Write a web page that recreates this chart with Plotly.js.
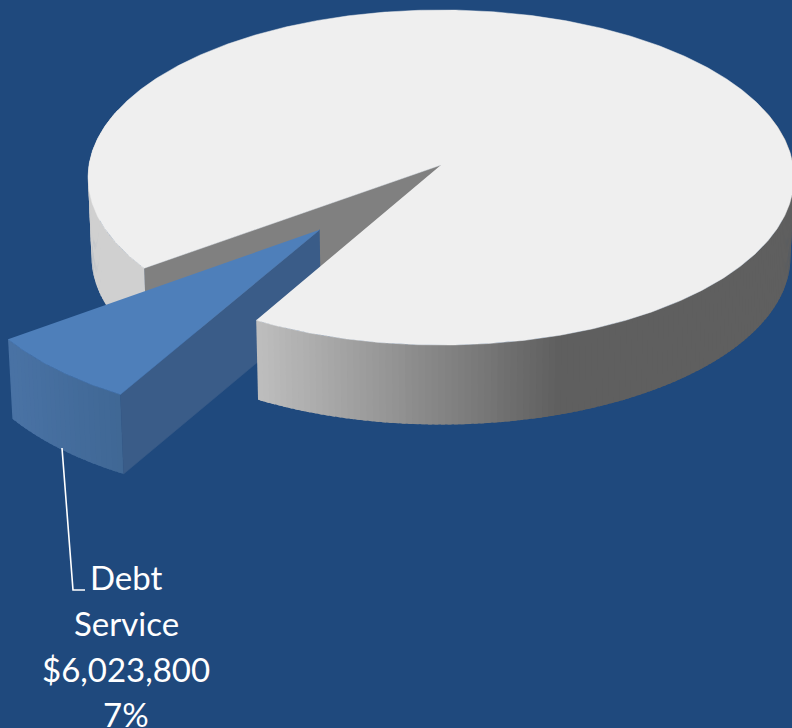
<!DOCTYPE html>
<html>
<head>
<meta charset="utf-8">
<script src="https://cdn.plot.ly/plotly-3.0.1.min.js"></script>
<style>html,body{margin:0;padding:0;background:#1f497d;overflow:hidden}#chart{width:792px;height:728px}</style>
</head>
<body>
<div id="chart"></div>
<script>
// Data
const sliceNames = ['Debt Service', 'All other'];
const sliceValues = [6023800, 83200000];
const labelLines = ['Debt', 'Service', '$6,023,800', '7%'];

// Style: projection of the tilted 3D pie
const C = {bg: '#1f497d', top: '#efefef', gapWall: '#808080', leftWall: '#d0d0d0',
           sliceTop: '#4e7fba', sliceInner: '#3a5c88', text: '#ffffff'};
const P = {cx: 441, cy: 165, rx: 352, ry: 166.6, k: 0.0746, depth: 79.5, shrink: 0.99,
           startDeg: 29.4, explode: 0.505};

const total = sliceValues.reduce((a, b) => a + b, 0);
const sweep = 360 * sliceValues[0] / total;
const a0 = P.startDeg, a1 = P.startDeg + sweep;
const rad = d => d * Math.PI / 180;

function project(X, Y, low) {
  const s = 1 / (1 - P.k * Y);
  let x = P.cx + P.rx * X * s, y = P.cy + P.ry * Y * s;
  if (low) { x = P.cx + (x - P.cx) * P.shrink; y += P.depth; }
  return [x, y];
}
function rim(deg, ox, oy, low) { return project(ox - Math.sin(rad(deg)), oy + Math.cos(rad(deg)), low); }
function arc(from, to, ox, oy, low) {
  const n = Math.max(2, Math.ceil(Math.abs(to - from) * 2)), out = [];
  for (let i = 0; i <= n; i++) out.push(rim(from + (to - from) * i / n, ox, oy, low));
  return out;
}
function poly(pts, color, w) {
  return {type: 'scatter', mode: 'lines', x: pts.map(p => p[0]), y: pts.map(p => p[1]),
          fill: 'toself', fillcolor: color, line: {color: color, width: w === undefined ? 0.5 : w},
          hoverinfo: 'skip', showlegend: false};
}
// Bands are painted back to front, each reaching under its successor so no seams show.
function wallBand(from, to, ox, oy, colorFn, step) {
  const out = [];
  const dir = to > from ? 1 : -1;
  for (let d = from; dir * (d - to) < 0; d += dir * step) {
    const e = dir > 0 ? Math.min(d + step, to) : Math.max(d - step, to);
    const up = arc(d, e, ox, oy, false);
    const midX = (up[0][0] + up[up.length - 1][0]) / 2;
    out.push({from: d, to: e, color: colorFn(midX)});
  }
  return out.map((b, i) => {
    const ext = i === 0 ? b.from : b.from - dir * step * 0.6;
    return {ext, end: b.to, color: b.color};
  }).reverse().map(b => poly(arc(b.ext, b.end, ox, oy, false).concat(arc(b.end, b.ext, ox, oy, true)), b.color, 0));
}
const lerp = (a, b, t) => Math.round(a + (b - a) * Math.min(1, Math.max(0, t)));
const frontColor = x => { const v = lerp(190, 95, (x - 257) / (560 - 257)); return `rgb(${v},${v},${v})`; };
const sliceColor = x => {
  const t = (x - 14) / (124 - 14);
  return `rgb(${lerp(73, 63, t)},${lerp(114, 103, t)},${lerp(164, 148, t)})`;
};

const mid = (a0 + a1) / 2;
const ox = -Math.sin(rad(mid)) * P.explode, oy = Math.cos(rad(mid)) * P.explode;

const traces = [];
// far gap wall and left outer wall of the large slice
traces.push(poly([project(0, 0, false), rim(a1, 0, 0, false), rim(a1, 0, 0, true), project(0, 0, true)], C.gapWall));
traces.push(...wallBand(a1, 110, 0, 0, () => C.leftWall, 1));
// exploded slice
traces.push(...wallBand(a0, a1, ox, oy, sliceColor, 1));
traces.push(poly([project(ox, oy, false), rim(a0, ox, oy, false), rim(a0, ox, oy, true), project(ox, oy, true)], C.sliceInner));
traces.push(poly([project(ox, oy, false)].concat(arc(a0, a1, ox, oy, false)), C.sliceTop));
// front wall, then the top of the large slice
traces.push(...wallBand(a0, -110, 0, 0, frontColor, 1));
traces.push(poly([project(0, 0, false)].concat(arc(a1, 360 + a0, 0, 0, false)), C.top));

const labelY = [577, 623, 668.5, 714];
const layout = {
  width: 792, height: 728, margin: {l: 0, r: 0, t: 0, b: 0},
  paper_bgcolor: C.bg, plot_bgcolor: C.bg, showlegend: false,
  xaxis: {range: [0, 792], visible: false, fixedrange: true},
  yaxis: {range: [728, 0], visible: false, fixedrange: true},
  shapes: [{type: 'path', xref: 'x', yref: 'y', path: 'M62,448 L73,590 L85,590',
            line: {color: C.text, width: 1.6}}],
  annotations: labelLines.map((t, i) => ({
    text: t, x: 126, y: labelY[i], xref: 'x', yref: 'y', xanchor: 'center', yanchor: 'middle',
    showarrow: false, font: {family: 'Lato, sans-serif', size: 33, color: C.text}
  }))
};
Plotly.newPlot('chart', traces, layout, {displayModeBar: false, staticPlot: true});
</script>
</body>
</html>
